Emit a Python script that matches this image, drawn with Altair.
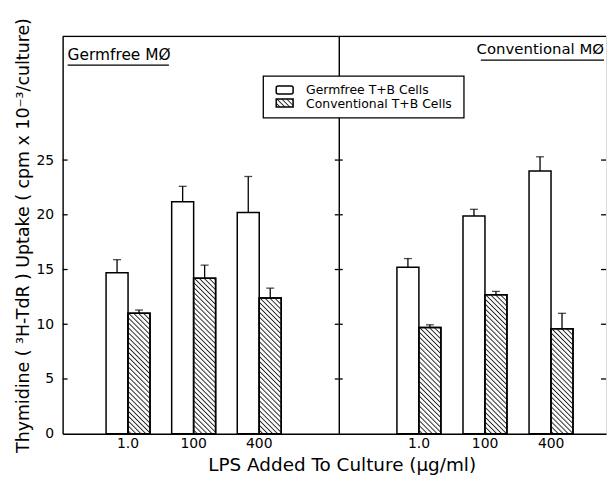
import altair as alt
import pandas as pd
from urllib.parse import quote

# ---------------- data ----------------
doses = ["1.0", "100", "400"]
cells = ["Germfree T+B Cells", "Conventional T+B Cells"]
panels = ["Germfree MØ", "Conventional MØ"]

# Germfree macrophage panel
gfm_gf_vals = [14.7, 21.2, 20.2]
gfm_gf_err = [1.2, 1.4, 3.3]
gfm_cv_vals = [11.0, 14.2, 12.4]
gfm_cv_err = [0.3, 1.2, 0.9]
# Conventional macrophage panel
cvm_gf_vals = [15.2, 19.9, 24.0]
cvm_gf_err = [0.8, 0.6, 1.3]
cvm_cv_vals = [9.7, 12.7, 9.6]
cvm_cv_err = [0.25, 0.3, 1.4]

y_ticks = [0, 5, 10, 15, 20, 25]
Y_MAX = 36.3
YTITLE = "Thymidine ( ³H-TdR ) Uptake ( cpm x 10⁻³/culture)"
XTITLE = "LPS Added To Culture (μg/ml)"

FONT = "DejaVu Sans"
H = 400
W_LEFT = 278
W_RIGHT = 269

hatch_svg = (
    "<svg xmlns='http://www.w3.org/2000/svg' width='100%' height='100%'>"
    "<defs><pattern id='h' patternUnits='userSpaceOnUse' width='3.5' height='3.5' "
    "patternTransform='rotate(-45)'>"
    "<rect x='0' y='0' width='0.95' height='3.5' fill='#222'/></pattern></defs>"
    "<rect width='100%' height='100%' fill='url(#h)'/></svg>"
)
HATCH = "data:image/svg+xml;charset=utf-8," + quote(hatch_svg)


def panel_df(gv, ge, cv, ce):
    rows = []
    for i, d in enumerate(doses):
        rows.append({"dose": d, "cell": cells[0], "value": gv[i], "top": gv[i] + ge[i]})
        rows.append({"dose": d, "cell": cells[1], "value": cv[i], "top": cv[i] + ce[i]})
    return pd.DataFrame(rows)


df_left = panel_df(gfm_gf_vals, gfm_gf_err, gfm_cv_vals, gfm_cv_err)
df_right = panel_df(cvm_gf_vals, cvm_gf_err, cvm_cv_vals, cvm_cv_err)
tick_df = pd.DataFrame({"value": y_ticks[1:]})
one = pd.DataFrame({"k": [0]})

yscale = alt.Scale(domain=[0, Y_MAX], nice=False, zero=True)


def make_panel(df, width, pad_outer, align, left):
    if left:
        yaxis = alt.Axis(values=y_ticks, ticks=False, grid=False, domainColor="black",
                         domainWidth=1.4, labelFontSize=14, labelColor="black",
                         labelPadding=9, title=YTITLE, titleFontSize=17.5,
                         titleFontWeight="normal", titleColor="black", titlePadding=4)
    else:
        yaxis = alt.Axis(values=y_ticks, labels=False, ticks=False, grid=False,
                         domainColor="black", domainWidth=1.4, title=None)
    Y = alt.Y("value:Q", scale=yscale, axis=yaxis)
    X = alt.X("dose:N", sort=doses, title=None,
              scale=alt.Scale(paddingInner=0.33, paddingOuter=pad_outer, align=align),
              axis=alt.Axis(labelAngle=0, ticks=False, grid=False, domainColor="black",
                            domainWidth=1.4, labelFontSize=14, labelColor="black",
                            labelPadding=3))
    XO = alt.XOffset("cell:N", sort=cells, scale=alt.Scale(paddingInner=0, paddingOuter=0))

    base = alt.Chart(df)
    bars = base.mark_bar(fill="white", stroke="black", strokeWidth=1.5).encode(x=X, xOffset=XO, y=Y)
    conv = base.transform_filter(alt.datum.cell == cells[1])
    hatch = conv.mark_image(aspect=False).encode(
        x=X, xOffset=XO, y=Y, y2=alt.datum(0), url=alt.value(HATCH))
    outline = conv.mark_bar(fillOpacity=0, stroke="black", strokeWidth=1.5).encode(x=X, xOffset=XO, y=Y)
    err = base.mark_rule(color="black", strokeWidth=1.3).encode(
        x=X, xOffset=XO, y=Y, y2=alt.Y2("top:Q"))
    cap = base.mark_tick(color="black", thickness=1.3, size=8, orient="horizontal").encode(
        x=X, xOffset=XO, y=alt.Y("top:Q", scale=yscale, axis=yaxis))

    top = alt.Chart(one).mark_rule(color="black", strokeWidth=1.4).encode(y=alt.datum(Y_MAX))

    layers = [bars, hatch, outline, err, cap, top]
    if left:
        t_in = alt.Chart(tick_df).mark_rule(color="black", strokeWidth=1.3).encode(
            y=Y, x=alt.value(0), x2=alt.value(5))
        t_mid = alt.Chart(tick_df).mark_rule(color="black", strokeWidth=1.3).encode(
            y=Y, x=alt.value(width - 4), x2=alt.value(width))
        lab = alt.Chart(one).mark_text(align="left", baseline="middle", fontSize=15.5,
                                       color="black").encode(
            x=alt.value(5), y=alt.value(19), text=alt.value(panels[0]))
        und = alt.Chart(one).mark_rule(color="black", strokeWidth=1.3).encode(
            x=alt.value(5), x2=alt.value(107), y=alt.value(29))
        layers += [t_in, t_mid, lab, und]
    else:
        t_mid = alt.Chart(tick_df).mark_rule(color="black", strokeWidth=1.3).encode(
            y=Y, x=alt.value(0), x2=alt.value(4))
        t_r = alt.Chart(tick_df).mark_rule(color="black", strokeWidth=1.3).encode(
            y=Y, x=alt.value(width - 5), x2=alt.value(width))
        lab = alt.Chart(one).mark_text(align="right", baseline="middle", fontSize=15,
                                       color="black").encode(
            x=alt.value(width - 2), y=alt.value(13), text=alt.value(panels[1]))
        und = alt.Chart(one).mark_rule(color="black", strokeWidth=1.3).encode(
            x=alt.value(143), x2=alt.value(width - 2), y=alt.value(24))
        # legend
        box = alt.Chart(one).mark_rect(fill="white", stroke="black", strokeWidth=1.3).encode(
            x=alt.value(-76), x2=alt.value(126), y=alt.value(40), y2=alt.value(82))
        sym1 = alt.Chart(one).mark_rect(fill="white", stroke="black", strokeWidth=1.5,
                                        cornerRadius=2).encode(
            x=alt.value(-63), x2=alt.value(-46), y=alt.value(50), y2=alt.value(58))
        sym2 = alt.Chart(one).mark_image(aspect=False).encode(
            x=alt.value(-63), x2=alt.value(-46), y=alt.value(63), y2=alt.value(71),
            url=alt.value(HATCH))
        sym2o = alt.Chart(one).mark_rect(fillOpacity=0, stroke="black", strokeWidth=1.5).encode(
            x=alt.value(-63), x2=alt.value(-46), y=alt.value(63), y2=alt.value(71))
        txt1 = alt.Chart(one).mark_text(align="left", baseline="middle", fontSize=12.5,
                                        color="black").encode(
            x=alt.value(-33), y=alt.value(54), text=alt.value(cells[0]))
        txt2 = alt.Chart(one).mark_text(align="left", baseline="middle", fontSize=12.5,
                                        color="black").encode(
            x=alt.value(-33), y=alt.value(68), text=alt.value(cells[1]))
        layers += [t_mid, t_r, lab, und, box, sym1, sym2, sym2o, txt1, txt2]

    return alt.layer(*layers).properties(width=width, height=H)


left = make_panel(df_left, W_LEFT, 0.77, 0.43, True)
right = make_panel(df_right, W_RIGHT, 0.6875, 0.64, False)

chart = (
    alt.hconcat(left, right, spacing=0, bounds="flush")
    .properties(
        title=alt.TitleParams(XTITLE, orient="bottom", anchor="middle", fontSize=18.5,
                              fontWeight="normal", color="black", offset=3, dx=32),
        padding={"left": 5, "top": 7, "right": 0, "bottom": 0},
    )
    .configure_view(stroke=None)
    .configure(font=FONT)
)

chart.save("out.html", embed_options={"renderer": "svg", "actions": False})
